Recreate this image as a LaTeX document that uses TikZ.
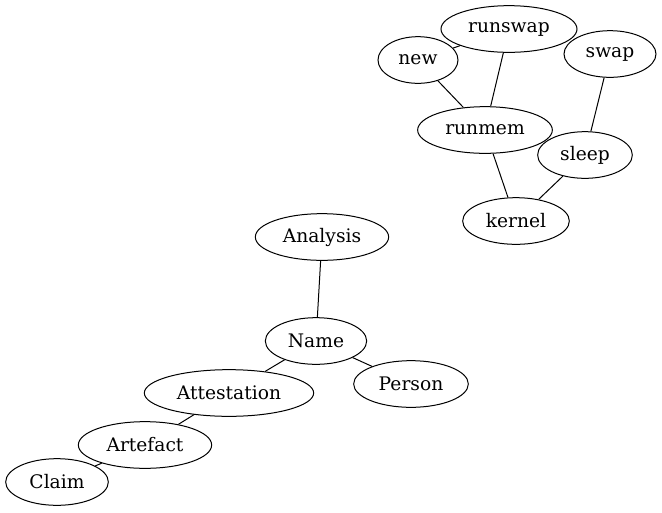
\documentclass[tikz,border=0pt]{standalone}
\usepackage{fontspec}
\setmainfont{DejaVu Serif}
\usetikzlibrary{shapes.geometric}
\tikzset{ent/.style={draw, ellipse, inner sep=0pt, minimum height=35pt, line width=0.75pt, font=\fontsize{14}{16}\selectfont}}
\begin{document}
\begin{tikzpicture}[x=0.75pt,y=-0.75pt,line width=0.75pt]
\useasboundingbox (0,0) rectangle (662,512);
   \node[ent,minimum width=102pt] at (509,29)  (runswap) {runswap};
   \node[ent,minimum width=60pt]  at (418,60)  (new) {new};
   \node[ent,minimum width=69pt]  at (610,54)  (swap) {swap};
   \node[ent,minimum width=101pt] at (485,130) (runmem) {runmem};
   \node[ent,minimum width=71pt]  at (585,155) (sleep) {sleep};
   \node[ent,minimum width=80pt]  at (516,221) (kernel) {kernel};

   \node[ent,minimum width=100pt] at (322,237) (Analysis) {Analysis};
   \node[ent,minimum width=76pt]  at (316,341) (Name) {Name};
   \node[ent,minimum width=86pt]  at (411,384) (Person) {Person};
   \node[ent,minimum width=127pt] at (229,393) (Attestation) {Attestation};
   \node[ent,minimum width=100pt] at (145,445) (Artefact) {Artefact};
   \node[ent,minimum width=77pt]  at (57,482)  (Claim) {Claim};

    \draw (new) -- (runswap);
    \draw (new) -- (runmem);
    \draw (runswap) -- (runmem);
    \draw (swap) -- (sleep);
    \draw (runmem) -- (kernel);
    \draw (sleep) -- (kernel);

    \draw (Analysis) -- (Name);
    \draw (Name) -- (Attestation);
    \draw (Name) -- (Person);
    \draw (Attestation) -- (Artefact);
    \draw (Artefact) -- (Claim);
\end{tikzpicture}
\end{document}
